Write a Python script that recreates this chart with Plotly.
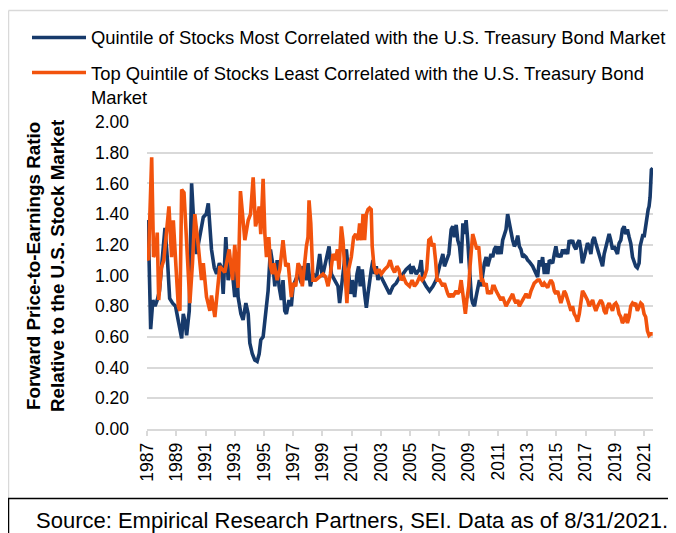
import plotly.graph_objects as go

# ---------------- data ----------------
blue_name = "Quintile of Stocks Most Correlated with the U.S. Treasury Bond Market"
orange_name = "Top Quintile of Stocks Least Correlated with the U.S. Treasury Bond Market"

blue_years = [
    1987.0, 1987.08, 1987.25, 1987.4, 1987.55, 1987.7, 1987.85, 1988.0, 1988.23, 1988.4,
    1988.55, 1988.75, 1988.95, 1989.15, 1989.37, 1989.48, 1989.6, 1989.71, 1989.89, 1990.05,
    1990.25, 1990.39, 1990.6, 1990.85, 1991.05, 1991.19, 1991.41, 1991.6, 1991.76, 1991.95,
    1992.1, 1992.21, 1992.39, 1992.55, 1992.78, 1993.0, 1993.12, 1993.23, 1993.42, 1993.57,
    1993.76, 1993.92, 1994.03, 1994.2, 1994.37, 1994.53, 1994.67, 1994.78, 1994.94, 1995.12,
    1995.28, 1995.44, 1995.62, 1995.74, 1995.9, 1996.03, 1996.19, 1996.3, 1996.42, 1996.53,
    1996.71, 1996.87, 1996.99, 1997.33, 1997.56, 1997.67, 1997.9, 1998.01, 1998.17, 1998.35,
    1998.6, 1998.81, 1998.99, 1999.45, 1999.61, 1999.83, 2000.06, 2000.17, 2000.3, 2000.4,
    2000.51, 2000.63, 2000.79, 2000.92, 2001.04, 2001.2, 2001.36, 2001.47, 2001.58, 2001.72,
    2001.88, 2002.0, 2002.11, 2002.22, 2002.34, 2002.45, 2002.56, 2002.68, 2002.79, 2002.91,
    2003.13, 2003.36, 2003.59, 2003.82, 2004.04, 2004.27, 2004.5, 2004.72, 2004.95, 2005.07,
    2005.18, 2005.41, 2005.63, 2005.75, 2005.86, 2006.09, 2006.32, 2006.55, 2006.77, 2007.0,
    2007.11, 2007.23, 2007.34, 2007.46, 2007.64, 2007.8, 2007.91, 2008.02, 2008.14, 2008.25,
    2008.37, 2008.48, 2008.6, 2008.71, 2008.82, 2008.93, 2009.0, 2009.09, 2009.18, 2009.27,
    2009.39, 2009.5, 2009.62, 2009.73, 2009.84, 2009.96, 2010.07, 2010.19, 2010.3, 2010.41,
    2010.53, 2010.64, 2010.75, 2010.87, 2010.98, 2011.1, 2011.21, 2011.32, 2011.44, 2011.55,
    2011.66, 2011.78, 2011.89, 2012.0, 2012.12, 2012.23, 2012.35, 2012.46, 2012.57, 2012.69,
    2012.8, 2012.92, 2013.03, 2013.14, 2013.37, 2013.6, 2013.71, 2013.83, 2013.94, 2014.05,
    2014.17, 2014.28, 2014.4, 2014.51, 2014.74, 2014.85, 2014.96, 2015.08, 2015.19, 2015.3,
    2015.42, 2015.53, 2015.64, 2015.76, 2015.87, 2015.99, 2016.1, 2016.21, 2016.33, 2016.44,
    2016.56, 2016.67, 2016.78, 2016.9, 2017.01, 2017.12, 2017.24, 2017.35, 2017.47, 2017.58,
    2017.69, 2017.81, 2017.92, 2018.03, 2018.15, 2018.26, 2018.37, 2018.49, 2018.6, 2018.71,
    2018.83, 2018.94, 2019.06, 2019.17, 2019.28, 2019.4, 2019.51, 2019.63, 2019.74, 2019.85,
    2019.97, 2020.08, 2020.2, 2020.31, 2020.42, 2020.53, 2020.65, 2020.72, 2020.83, 2020.92,
    2020.99, 2021.1, 2021.18, 2021.27, 2021.33, 2021.4, 2021.49, 2021.58,
]
blue_values = [
    1.30, 1.36, 0.65, 0.84, 0.80, 0.84, 0.90, 1.05, 1.31, 1.10,
    0.85, 0.82, 0.80, 0.70, 0.59, 0.75, 0.70, 0.61, 0.77, 1.60,
    1.25, 1.14, 1.25, 1.38, 1.40, 1.47, 1.17, 1.05, 1.01, 1.08,
    1.05, 0.88, 1.25, 0.97, 1.08, 0.86, 1.10, 0.86, 0.75, 0.71,
    0.82, 0.75, 0.56, 0.49, 0.45, 0.44, 0.49, 0.58, 0.60, 0.75,
    0.90, 1.17, 1.06, 0.93, 1.10, 0.93, 0.84, 0.97, 0.77, 0.75,
    0.84, 0.80, 0.93, 1.01, 0.95, 1.06, 0.97, 1.08, 0.93, 1.01,
    0.99, 1.14, 0.99, 1.19, 1.01, 0.97, 0.93, 0.82, 0.95, 1.01,
    1.10, 1.17, 0.97, 0.88, 0.97, 0.86, 1.01, 1.06, 0.93, 1.04,
    0.88, 0.79, 0.88, 0.97, 1.04, 1.10, 1.01, 1.06, 0.97, 1.01,
    0.97, 0.93, 0.88, 0.93, 0.95, 0.99, 1.01, 1.04, 1.06, 1.01,
    1.06, 1.01, 1.04, 1.10, 0.97, 0.93, 0.90, 0.93, 0.97, 1.06,
    1.10, 1.14, 1.06, 1.10, 1.14, 1.30, 1.32, 1.25, 1.33, 1.23,
    1.19, 1.08, 1.34, 1.27, 1.36, 1.23, 1.10, 0.97, 0.86, 0.82,
    0.80, 0.86, 0.93, 0.97, 0.93, 1.01, 1.08, 1.12, 1.06, 1.10,
    1.14, 1.12, 1.17, 1.19, 1.14, 1.19, 1.14, 1.23, 1.27, 1.30,
    1.40, 1.34, 1.27, 1.23, 1.19, 1.21, 1.26, 1.19, 1.17, 1.12,
    1.13, 1.12, 1.10, 1.09, 1.06, 1.01, 0.99, 1.10, 1.06, 1.12,
    1.01, 1.08, 1.01, 1.10, 1.08, 1.14, 1.19, 1.12, 1.14, 1.12,
    1.17, 1.14, 1.17, 1.14, 1.23, 1.21, 1.23, 1.19, 1.17, 1.21,
    1.23, 1.17, 1.08, 1.12, 1.17, 1.21, 1.19, 1.14, 1.23, 1.25,
    1.21, 1.17, 1.12, 1.08, 1.06, 1.14, 1.19, 1.23, 1.27, 1.23,
    1.17, 1.19, 1.17, 1.14, 1.21, 1.23, 1.30, 1.32, 1.27, 1.30,
    1.25, 1.21, 1.12, 1.08, 1.06, 1.05, 1.08, 1.19, 1.25, 1.27,
    1.25, 1.34, 1.40, 1.43, 1.45, 1.51, 1.69, 1.70,
]

orange_years = [
    1987.0, 1987.1, 1987.32, 1987.45, 1987.6, 1987.7, 1987.8, 1987.98, 1988.15, 1988.3,
    1988.5, 1988.68, 1988.8, 1988.98, 1989.14, 1989.25, 1989.37, 1989.53, 1989.71, 1989.93,
    1990.11, 1990.27, 1990.5, 1990.73, 1990.85, 1991.07, 1991.3, 1991.41, 1991.64, 1991.98,
    1992.32, 1992.62, 1992.85, 1993.0, 1993.23, 1993.39, 1993.53, 1993.69, 1993.92, 1994.08,
    1994.26, 1994.42, 1994.53, 1994.67, 1994.78, 1994.94, 1995.06, 1995.17, 1995.33, 1995.44,
    1995.58, 1995.69, 1995.9, 1996.08, 1996.3, 1996.49, 1996.65, 1996.76, 1996.87, 1996.99,
    1997.17, 1997.33, 1997.44, 1997.62, 1997.78, 1997.9, 1998.01, 1998.08, 1998.2, 1998.35,
    1998.53, 1998.81, 1999.04, 1999.22, 1999.38, 1999.54, 1999.72, 1999.88, 2000.02, 2000.13,
    2000.29, 2000.4, 2000.55, 2000.67, 2000.79, 2000.97, 2001.13, 2001.27, 2001.43, 2001.54,
    2001.68, 2001.77, 2001.88, 2002.0, 2002.11, 2002.22, 2002.33, 2002.4, 2002.52, 2002.68,
    2002.86, 2003.02, 2003.25, 2003.47, 2003.63, 2003.77, 2003.93, 2004.09, 2004.22, 2004.38,
    2004.54, 2004.72, 2004.95, 2005.13, 2005.29, 2005.45, 2005.63, 2005.81, 2005.97, 2006.13,
    2006.27, 2006.39, 2006.5, 2006.61, 2006.73, 2006.84, 2007.0, 2007.11, 2007.23, 2007.34,
    2007.46, 2007.57, 2007.68, 2007.8, 2007.91, 2008.02, 2008.14, 2008.25, 2008.37, 2008.48,
    2008.6, 2008.66, 2008.77, 2008.87, 2009.0, 2009.09, 2009.18, 2009.27, 2009.39, 2009.46,
    2009.55, 2009.68, 2009.78, 2009.87, 2009.96, 2010.07, 2010.19, 2010.3, 2010.41, 2010.53,
    2010.64, 2010.75, 2010.87, 2010.98, 2011.1, 2011.21, 2011.32, 2011.44, 2011.55, 2011.66,
    2011.78, 2011.89, 2012.0, 2012.12, 2012.23, 2012.35, 2012.46, 2012.57, 2012.69, 2012.8,
    2012.92, 2013.03, 2013.14, 2013.26, 2013.37, 2013.48, 2013.6, 2013.71, 2013.83, 2013.94,
    2014.05, 2014.17, 2014.28, 2014.4, 2014.51, 2014.62, 2014.74, 2014.85, 2014.96, 2015.08,
    2015.19, 2015.3, 2015.42, 2015.53, 2015.64, 2015.76, 2015.87, 2015.99, 2016.1, 2016.21,
    2016.33, 2016.44, 2016.56, 2016.67, 2016.78, 2016.9, 2017.01, 2017.12, 2017.24, 2017.35,
    2017.47, 2017.58, 2017.69, 2017.81, 2017.92, 2018.03, 2018.15, 2018.26, 2018.38, 2018.49,
    2018.6, 2018.71, 2018.83, 2018.94, 2019.06, 2019.17, 2019.28, 2019.4, 2019.51, 2019.63,
    2019.74, 2019.85, 2019.97, 2020.08, 2020.2, 2020.31, 2020.42, 2020.53, 2020.65, 2020.76,
    2020.87, 2020.99, 2021.1, 2021.22, 2021.33, 2021.45, 2021.58,
]
orange_values = [
    1.12, 1.10, 1.77, 1.12, 1.15, 1.28, 0.84, 1.05, 1.10, 1.23,
    1.45, 1.12, 1.36, 1.06, 0.80, 0.77, 1.56, 1.54, 1.23, 0.82,
    1.08, 1.40, 1.20, 0.97, 1.08, 0.86, 0.77, 0.87, 0.73, 1.06,
    1.02, 1.17, 0.97, 1.20, 0.92, 1.55, 1.40, 1.23, 1.36, 1.40,
    1.64, 1.32, 1.36, 1.45, 1.27, 1.63, 1.27, 1.12, 1.25, 1.06,
    1.01, 1.08, 0.97, 1.04, 1.23, 1.06, 1.08, 0.97, 0.86, 0.95,
    0.93, 1.08, 1.06, 0.93, 1.12, 1.19, 1.25, 1.49, 1.34, 0.97,
    0.97, 0.99, 1.01, 0.99, 0.93, 1.01, 1.14, 1.10, 1.17, 1.04,
    1.32, 1.23, 0.97, 0.82, 1.04, 1.12, 1.25, 1.27, 1.23, 1.34,
    1.23, 1.40, 1.23, 1.40, 1.43, 1.44, 1.43, 1.19, 1.06, 1.01,
    1.04, 1.01, 1.04, 1.06, 1.10, 1.05, 1.02, 1.06, 1.04, 0.97,
    0.99, 0.95, 0.93, 0.97, 0.93, 0.95, 0.99, 0.97, 0.99, 1.04,
    1.23, 1.24, 1.19, 1.21, 1.10, 0.97, 0.97, 0.95, 0.93, 0.95,
    0.90, 0.88, 0.86, 0.88, 0.86, 0.88, 0.90, 0.88, 0.90, 0.97,
    0.86, 0.80, 0.75, 0.84, 0.93, 1.06, 1.19, 1.27, 1.23, 1.19,
    1.17, 1.19, 1.06, 0.97, 0.97, 0.93, 0.95, 0.88, 0.90, 0.88,
    0.93, 0.93, 0.90, 0.88, 0.86, 0.84, 0.86, 0.82, 0.80, 0.82,
    0.84, 0.86, 0.88, 0.84, 0.82, 0.84, 0.80, 0.82, 0.84, 0.86,
    0.88, 0.86, 0.86, 0.90, 0.93, 0.95, 0.96, 0.97, 0.97, 0.95,
    0.93, 0.95, 0.93, 0.92, 0.95, 0.97, 0.95, 0.90, 0.88, 0.90,
    0.86, 0.82, 0.86, 0.90, 0.88, 0.84, 0.82, 0.77, 0.80, 0.75,
    0.73, 0.70, 0.75, 0.84, 0.90, 0.88, 0.86, 0.84, 0.80, 0.82,
    0.84, 0.80, 0.77, 0.80, 0.82, 0.84, 0.82, 0.77, 0.75, 0.80,
    0.82, 0.80, 0.77, 0.81, 0.82, 0.80, 0.75, 0.73, 0.69, 0.71,
    0.75, 0.69, 0.73, 0.80, 0.82, 0.81, 0.82, 0.77, 0.80, 0.82,
    0.81, 0.75, 0.73, 0.64, 0.61, 0.62, 0.62,
]

tick_years = list(range(1987, 2022, 2))
tick_labels = [str(y) for y in tick_years]
y_tick_values = [0.0, 0.2, 0.4, 0.6, 0.8, 1.0, 1.2, 1.4, 1.6, 1.8, 2.0]

y_title = "Forward Price-to-Earnings Ratio<br>Relative to the U.S. Stock Market"
source_text = "Source: Empirical Research Partners, SEI. Data as of 8/31/2021."

# ---------------- styling ----------------
BLUE = "#173A6B"
ORANGE = "#F2530D"
GRID = "#D9D9D9"
FONT = "Liberation Sans, Arial, sans-serif"

OFF = 8                     # page body margin: the figure is drawn 8 px in from the window corner
W, H = 676 - OFF, 533 - OFF
L, R, T, B = 147 - OFF, 23, 122 - OFF, 104
PW = W - L - R
PH = H - T - B


def px(x):
    """window x pixel -> paper x"""
    return (x - OFF - L) / PW


def py(y):
    """window y pixel -> paper y"""
    return (H - B - (y - OFF)) / PH


fig = go.Figure()
fig.add_trace(go.Scatter(x=blue_years, y=blue_values, mode="lines", name=blue_name,
                         line=dict(color=BLUE, width=3.6), showlegend=False))
fig.add_trace(go.Scatter(x=orange_years, y=orange_values, mode="lines", name=orange_name,
                         line=dict(color=ORANGE, width=3.6), showlegend=False))

shapes = [
    # light gray outer frame (left + top)
    dict(type="line", xref="paper", yref="paper", x0=px(8.5), x1=px(8.5), y0=py(10.5), y1=py(498),
         line=dict(color=GRID, width=1.5)),
    dict(type="line", xref="paper", yref="paper", x0=px(8.5), x1=px(690), y0=py(10.5), y1=py(10.5),
         line=dict(color=GRID, width=1.5)),
    # source box
    dict(type="rect", xref="paper", yref="paper", x0=px(8.5), x1=px(700), y0=py(498.5), y1=py(560),
         line=dict(color="#000000", width=1.5)),
    # legend samples
    dict(type="line", xref="paper", yref="paper", x0=px(32), x1=px(86), y0=py(37.5), y1=py(37.5),
         line=dict(color=BLUE, width=3.5)),
    dict(type="line", xref="paper", yref="paper", x0=px(32), x1=px(86), y0=py(72.5), y1=py(72.5),
         line=dict(color=ORANGE, width=3.5)),
]

annotations = [
    dict(text=blue_name, xref="paper", yref="paper", x=px(89), y=py(37.5),
         xanchor="left", yanchor="middle", showarrow=False,
         font=dict(family=FONT, size=18.4, color="#000000")),
    dict(text="Top Quintile of Stocks Least Correlated with the U.S. Treasury Bond<br>Market",
         xref="paper", yref="paper", x=px(89), y=py(61), align="left",
         xanchor="left", yanchor="top", showarrow=False,
         font=dict(family=FONT, size=18.4, color="#000000")),
    dict(text="<b>" + y_title + "</b>", xref="paper", yref="paper", x=px(45), y=py(266),
         xanchor="center", yanchor="middle", showarrow=False, textangle=-90,
         font=dict(family=FONT, size=18.8, color="#000000")),
    dict(text=source_text, xref="paper", yref="paper", x=px(34), y=py(520),
         xanchor="left", yanchor="middle", showarrow=False,
         font=dict(family=FONT, size=22, color="#000000")),
]

fig.update_layout(
    width=W, height=H,
    margin=dict(l=L, r=R, t=T, b=B, pad=0),
    paper_bgcolor="white", plot_bgcolor="white",
    font=dict(family=FONT, color="#000000"),
    shapes=shapes, annotations=annotations,
    showlegend=False,
)

fig.update_xaxes(
    range=[1987, 2021.6], tickmode="array", tickvals=tick_years, ticktext=tick_labels,
    tickangle=-90, tickfont=dict(size=17.5, family=FONT, color="#000000"),
    showgrid=False, zeroline=False, showline=True, linecolor=GRID, linewidth=1.5,
    ticks="outside", ticklen=5, tickwidth=1.5, tickcolor=GRID,
)
fig.update_yaxes(
    range=[0, 2], tickmode="array", tickvals=y_tick_values, tickformat=".2f",
    tickfont=dict(size=17.5, family=FONT, color="#000000"),
    showgrid=True, gridcolor=GRID, gridwidth=1.5, zeroline=False, showline=False,
    ticks="", ticklabelstandoff=17,
)

fig.write_html("out.html")
